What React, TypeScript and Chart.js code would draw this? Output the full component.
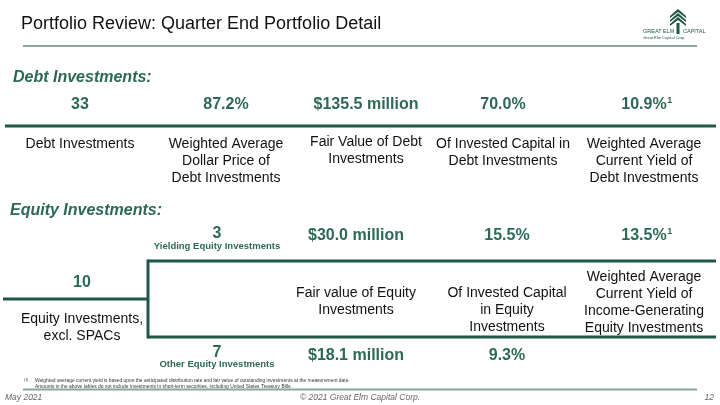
import React, { useEffect, useRef } from "react";
import { Chart, registerables } from "chart.js";

Chart.register(...registerables);

// ---- Data ----
const slideTitle = "Portfolio Review: Quarter End Portfolio Detail";
const debtHeading = "Debt Investments:";
const debtValues = ["33", "87.2%", "$135.5 million", "70.0%", "10.9%"];
const debtFootnoteMarks = ["", "", "", "", "1"];
const debtLabels = [
  ["Debt Investments"],
  ["Weighted Average", "Dollar Price of", "Debt Investments"],
  ["Fair Value of Debt", "Investments"],
  ["Of Invested Capital in", "Debt Investments"],
  ["Weighted Average", "Current Yield of", "Debt Investments"],
];

const equityHeading = "Equity Investments:";
const equityTotalCount = "10";
const equityTotalLabel = ["Equity Investments,", "excl. SPACs"];
const yieldingCount = "3";
const yieldingLabel = "Yielding Equity Investments";
const otherCount = "7";
const otherLabel = "Other Equity Investments";
const equityTopValues = ["$30.0 million", "15.5%", "13.5%"];
const equityTopFootnoteMarks = ["", "", "1"];
const equityBottomValues = ["$18.1 million", "9.3%"];
const equityLabels = [
  ["Fair value of Equity", "Investments"],
  ["Of Invested Capital", "in Equity", "Investments"],
  ["Weighted Average", "Current Yield of", "Income-Generating", "Equity Investments"],
];

const footnoteMark = "(1)";
const footnotes = [
  "Weighted average current yield is based upon the anticipated distribution rate and fair value of outstanding investments at the measurement date.",
  "Amounts in the above tables do not include investments in short-term securities, including United States Treasury Bills.",
];
const footerLeft = "May 2021";
const footerCenter = "\u00A9 2021 Great Elm Capital Corp.";
const footerRight = "12";

// ---- Layout / style ----
const FF = "Arial, 'Liberation Sans', Helvetica, sans-serif";
const GREEN = "#2b6a52";
const DARK = "#1f5843";
const GREYLINE = "#8da59e";

const debtCols = [80, 226, 366, 503, 644];
const eqCols = [356, 507, 644];

const slidePlugin = {
  id: "slide",
  afterDraw(chart: any) {
    const ctx: CanvasRenderingContext2D = chart.ctx;
    const xs = chart.scales.x;
    const ys = chart.scales.y;
    const X = (v: number) => xs.getPixelForValue(v);
    const Y = (v: number) => ys.getPixelForValue(v);

    const text = (
      s: string,
      x: number,
      y: number,
      font: string,
      color: string,
      align: CanvasTextAlign = "center"
    ) => {
      ctx.font = font;
      ctx.fillStyle = color;
      ctx.textAlign = align;
      ctx.textBaseline = "middle";
      ctx.fillText(s, X(x), Y(y));
    };
    const line = (x1: number, y1: number, x2: number, y2: number, w: number, c: string) => {
      ctx.beginPath();
      ctx.moveTo(X(x1), Y(y1));
      ctx.lineTo(X(x2), Y(y2));
      ctx.lineWidth = w;
      ctx.strokeStyle = c;
      ctx.lineCap = "butt";
      ctx.stroke();
    };
    const valueWithMark = (s: string, mark: string, x: number, y: number) => {
      const f = `bold 16px ${FF}`;
      text(s, x, y, f, GREEN);
      if (mark) {
        ctx.font = f;
        const w = ctx.measureText(s).width;
        text(mark, x + w / 2 + 0.5, y - 4, `bold 9px ${FF}`, GREEN, "left");
      }
    };

    ctx.save();
    // Title
    text(slideTitle, 21, 24, `18px ${FF}`, "#111111", "left");
    line(23, 46, 697, 46, 2, GREYLINE);

    // Logo
    ctx.fillStyle = DARK;
    const lx = X(678), ly = Y(9);
    for (let i = 0; i < 3; i++) {
      ctx.beginPath();
      const yy = ly + i * 4;
      ctx.moveTo(lx, yy);
      ctx.lineTo(lx + 8, yy + 7);
      ctx.lineTo(lx + 8, yy + 9);
      ctx.lineTo(lx, yy + 3);
      ctx.lineTo(lx - 8, yy + 9);
      ctx.lineTo(lx - 8, yy + 7);
      ctx.closePath();
      ctx.fill();
    }
    ctx.fillRect(lx - 1.5, ly + 14, 3, 11);
    text("GREAT ELM", 643, 31, `5.5px ${FF}`, DARK, "left");
    text("CAPITAL", 683, 31, `5.5px ${FF}`, DARK, "left");
    text("Great Elm Capital Corp.", 643, 38, `4px ${FF}`, DARK, "left");

    // Debt section
    text(debtHeading, 13, 78, `italic bold 16px ${FF}`, GREEN, "left");
    debtValues.forEach((v, i) => valueWithMark(v, debtFootnoteMarks[i], debtCols[i], 105));
    line(5, 126, 716, 126, 3, DARK);
    debtLabels.forEach((lines, i) => {
      const y0 = i === 2 ? 142 : 144;
      lines.forEach((s, j) => text(s, debtCols[i], y0 + j * 17, `14px ${FF}`, "#111111"));
    });

    // Equity section
    text(equityHeading, 10, 211, `italic bold 16px ${FF}`, GREEN, "left");
    text(yieldingCount, 217, 234, `bold 16px ${FF}`, GREEN);
    text(yieldingLabel, 217, 246, `bold 9.5px ${FF}`, GREEN);
    equityTopValues.forEach((v, i) => valueWithMark(v, equityTopFootnoteMarks[i], eqCols[i], 236));
    // box
    line(148, 261, 716, 261, 3, DARK);
    line(148, 337, 716, 337, 3, DARK);
    line(148, 259.5, 148, 338.5, 3, DARK);
    line(3, 299, 148, 299, 3, DARK);

    text(equityTotalCount, 82, 283, `bold 16px ${FF}`, GREEN);
    equityTotalLabel.forEach((s, j) => text(s, 82, 319 + j * 17, `14px ${FF}`, "#111111"));
    equityLabels.forEach((lines, i) => {
      const y0 = i === 2 ? 277 : 293;
      lines.forEach((s, j) => text(s, eqCols[i], y0 + j * 17, `14px ${FF}`, "#111111"));
    });

    text(otherCount, 217, 353, `bold 16px ${FF}`, GREEN);
    text(otherLabel, 217, 364, `bold 9.5px ${FF}`, GREEN);
    equityBottomValues.forEach((v, i) => valueWithMark(v, "", eqCols[i], 356));

    // Footnotes & footer
    text(footnoteMark, 24, 380, `3.5px ${FF}`, "#333333", "left");
    text(footnotes[0], 35, 381, `4.9px ${FF}`, "#333333", "left");
    text(footnotes[1], 35, 386.5, `4.9px ${FF}`, "#333333", "left");
    line(23, 389.5, 697, 389.5, 2, GREYLINE);
    text(footerLeft, 5, 398, `italic 8.5px ${FF}`, "#666666", "left");
    text(footerCenter, 360, 398, `italic 8.5px ${FF}`, "#666666");
    text(footerRight, 714, 398, `italic 8.5px ${FF}`, "#666666", "right");
    ctx.restore();
  },
};

export default function App() {
  const ref = useRef<HTMLCanvasElement | null>(null);
  useEffect(() => {
    if (!ref.current) return;
    const chart = new Chart(ref.current, {
      type: "scatter",
      data: { datasets: [{ data: [], pointRadius: 0 }] },
      options: {
        animation: false,
        responsive: false,
        maintainAspectRatio: false,
        layout: { padding: 0 },
        plugins: { legend: { display: false }, tooltip: { enabled: false } },
        scales: {
          x: { type: "linear", min: 0, max: 720, display: false },
          y: { type: "linear", min: 0, max: 405, reverse: true, display: false },
        },
      },
      plugins: [slidePlugin],
    });
    return () => chart.destroy();
  }, []);
  return (
    <div style={{ position: "fixed", left: 0, top: 0, width: 720, height: 405, background: "#ffffff" }}>
      <canvas ref={ref} width={720} height={405} style={{ width: 720, height: 405, display: "block" }} />
    </div>
  );
}
